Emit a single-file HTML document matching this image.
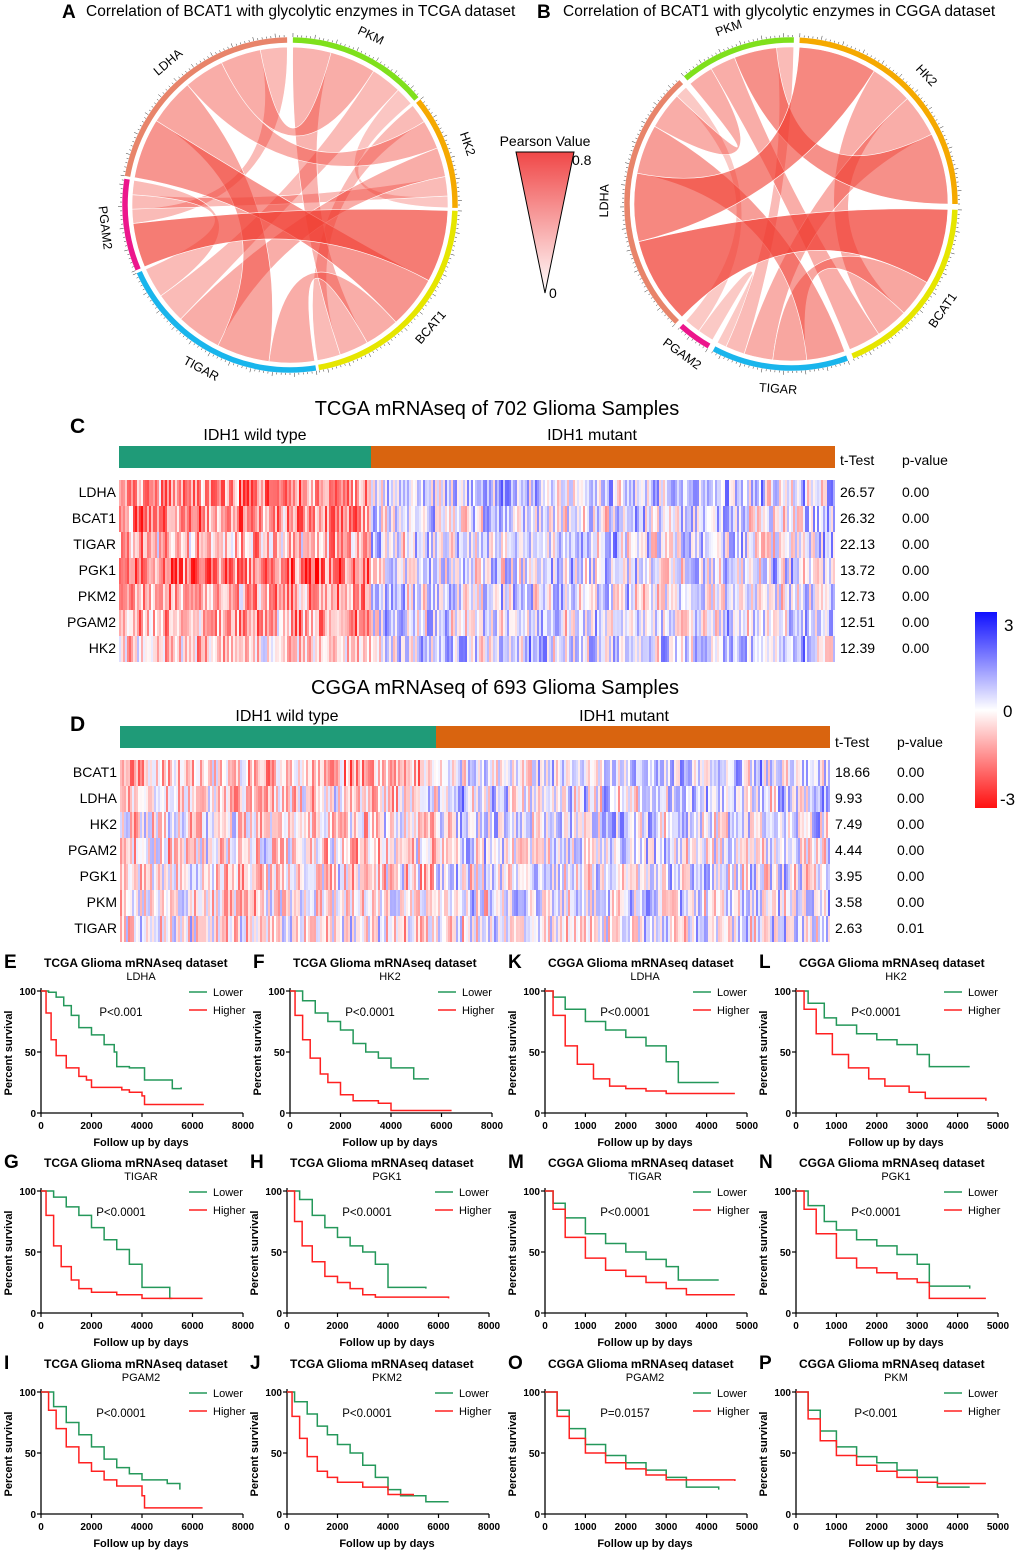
<!DOCTYPE html>
<html><head><meta charset="utf-8"><style>
body{margin:0;background:#fff;}
svg{display:block;font-family:"Liberation Sans",Arial,sans-serif;}
</style></head><body>
<svg id="fig" width="1020" height="1555" viewBox="0 0 1020 1555" xmlns="http://www.w3.org/2000/svg">
<defs>
<linearGradient id="pearsonGrad" x1="0" y1="0" x2="0" y2="1"><stop offset="0" stop-color="#f04848"/><stop offset="1" stop-color="#ffffff"/></linearGradient>
<linearGradient id="zGrad" x1="0" y1="0" x2="0" y2="1"><stop offset="0" stop-color="#1010ff"/><stop offset="0.5" stop-color="#ffffff"/><stop offset="1" stop-color="#ff1010"/></linearGradient>
</defs>
<g id="chordA"></g>
<g id="chordB"></g>
<text x="62" y="18" font-size="19" font-weight="bold">A</text>
<text x="86" y="16" font-size="15.5">Correlation of BCAT1 with glycolytic enzymes in TCGA dataset</text>
<text x="537" y="18" font-size="19" font-weight="bold">B</text>
<text x="563" y="16" font-size="15.5">Correlation of BCAT1 with glycolytic enzymes in CGGA dataset</text>
<g>
<text x="545" y="146" font-size="14" text-anchor="middle">Pearson Value</text>
<polygon points="516,152 574,152 545,293" fill="url(#pearsonGrad)" stroke="#000" stroke-width="1"/>
<text x="572" y="165" font-size="14">0.8</text>
<text x="549" y="298" font-size="14">0</text>
</g>
<g id="heatC"></g>
<g id="heatD"></g>
<g>
<rect x="975" y="612" width="22" height="196" fill="url(#zGrad)"/>
<text x="1004" y="631" font-size="17">3</text>
<text x="1003" y="717" font-size="17">0</text>
<text x="1000" y="805" font-size="17">-3</text>
</g>
<g id="surv"></g>
</svg>
<script>
const NS="http://www.w3.org/2000/svg";
function mk(tag,attrs,parent,txt){const e=document.createElementNS(NS,tag);for(const k in attrs)e.setAttribute(k,attrs[k]);if(txt!==undefined)e.textContent=txt;parent.appendChild(e);return e;}

// ---------- Chord data ----------
const chordGenesA=["PKM","HK2","BCAT1","TIGAR","PGAM2","LDHA"];
const chordSpansA=[[1,50],[51,91],[92,170],[171,246],[247,279],[280,359]];
const chordLinksA=[["BCAT1","PGAM2",0.62],["BCAT1","LDHA",0.45],["BCAT1","TIGAR",0.3],["BCAT1","PKM",0.25],["BCAT1","HK2",0.2],["LDHA","TIGAR",0.35],["LDHA","HK2",0.3],["LDHA","PKM",0.3],["LDHA","PGAM2",0.2],["TIGAR","HK2",0.3],["TIGAR","PKM",0.2],["PGAM2","HK2",0.2],["PGAM2","TIGAR",0.2],["HK2","PKM",0.12]];
const chordGenesB=["PKM","HK2","BCAT1","TIGAR","PGAM2","LDHA"];
const chordSpansB=[[-40,1],[3,90],[92,158],[160,208],[210,222],[224,318]];
const chordLinksB=[["LDHA","BCAT1",0.7],["LDHA","HK2",0.55],["LDHA","TIGAR",0.4],["LDHA","PKM",0.3],["BCAT1","TIGAR",0.35],["BCAT1","HK2",0.3],["BCAT1","PKM",0.3],["HK2","TIGAR",0.3],["HK2","PKM",0.5],["TIGAR","PKM",0.2],["PGAM2","TIGAR",0.1],["PGAM2","LDHA",0.1]];
const geneColors={PKM:"#7fe01c",HK2:"#f5a900",BCAT1:"#e6e600",TIGAR:"#19b5ec",PGAM2:"#ec168c",LDHA:"#e8846a"};

function drawChord(g,cx,cy,r,genes,spans,links){
  const pt=(a,rr)=>{const t=(a-90)*Math.PI/180;return [cx+rr*Math.cos(t),cy+rr*Math.sin(t)];};
  const tot={};genes.forEach(n=>tot[n]=0);
  links.forEach(l=>{tot[l[0]]+=l[2];tot[l[1]]+=l[2];});
  const cur={};genes.forEach((n,i)=>cur[n]=spans[i][0]);
  const scale={};genes.forEach((n,i)=>scale[n]=(spans[i][1]-spans[i][0])/tot[n]);
  const alloc=links.map(l=>{const a0=cur[l[0]];cur[l[0]]+=l[2]*scale[l[0]];const b0=cur[l[1]];cur[l[1]]+=l[2]*scale[l[1]];return [a0,cur[l[0]],b0,cur[l[1]]];});
  const order=links.map((l,i)=>i).sort((a,b)=>links[a][2]-links[b][2]);
  order.forEach(i=>{
    const l=links[i],[a0,a1,b0,b1]=alloc[i];
    const p1=pt(a0,r),p2=pt(a1,r),p3=pt(b0,r),p4=pt(b1,r);
    const d=`M${p1} A${r},${r} 0 0,1 ${p2} Q${cx},${cy} ${p3} A${r},${r} 0 0,1 ${p4} Q${cx},${cy} ${p1}Z`;
    const op=0.2+l[2]*0.75;
    const p=mk("path",{d:d,fill:"#f03c30","fill-opacity":op.toFixed(2),stroke:"#fff","stroke-width":"0.6"},g);
    
    
  });
  genes.forEach((n,i)=>{
    const [s,e]=spans[i];
    const R=r+7;
    const q1=pt(s,R),q2=pt(e,R);
    const large=(e-s)>180?1:0;
    const arc=mk("path",{d:`M${q1} A${R},${R} 0 ${large},1 ${q2}`,fill:"none",stroke:geneColors[n],"stroke-width":"5.5"},g);
    
    
    for(let a=s;a<=e;a+=1.5){const u=pt(a,R+3),v=pt(a,R+(Math.round((a-s)/1.5)%5==0?7:5));mk("line",{x1:u[0],y1:u[1],x2:v[0],y2:v[1],stroke:"#333","stroke-width":"0.5"},g);}
    const mid=(s+e)/2,lp=pt(mid,R+22);
    let rot=mid; if(mid>90&&mid<270) rot=mid-180;
    const t=mk("text",{x:lp[0],y:lp[1],"font-size":"12.5","text-anchor":"middle","dominant-baseline":"middle",transform:`rotate(${rot} ${lp[0]} ${lp[1]})`},g,n);
    
    
  });
}
drawChord(document.getElementById("chordA"),290,205,158,chordGenesA,chordSpansA,chordLinksA);
drawChord(document.getElementById("chordB"),791,204,157,chordGenesB,chordSpansB,chordLinksB);

// ---------- Heatmap data ----------
const heatRowsC=["LDHA","BCAT1","TIGAR","PGK1","PKM2","PGAM2","HK2"];
const heatTtestC=["26.57","26.32","22.13","13.72","12.73","12.51","12.39"];
const heatPC=["0.00","0.00","0.00","0.00","0.00","0.00","0.00"];
const heatWildMeanC=[-1.2,-1.2,-0.8,-1.5,-0.9,-1.0,-0.6];
const heatMutMeanC=[0.35,0.3,0.25,0.2,0.15,0.25,0.4];
const heatRowsD=["BCAT1","LDHA","HK2","PGAM2","PGK1","PKM","TIGAR"];
const heatTtestD=["18.66","9.93","7.49","4.44","3.95","3.58","2.63"];
const heatPD=["0.00","0.00","0.00","0.00","0.00","0.00","0.01"];
const heatWildMeanD=[-0.8,-0.3,-0.2,-0.3,-0.3,-0.2,-0.2];
const heatMutMeanD=[0.4,0.3,0.25,0.15,0.15,0.15,0.1];

function hash(i,j,k){let h=(i*374761393+j*668265263+k*2147483647)|0;h=(h^(h>>>13))*1274126177|0;return ((h^(h>>>16))>>>0)/4294967296;}
function zcol(z){z=Math.max(-3,Math.min(3,z));const f=Math.abs(z)/2.8;const c=Math.round(255*(1-Math.min(1,f)));return z<0?`rgb(255,${c},${c})`:`rgb(${c},${c},255)`;}

function drawHeat(g,x0,x1,xs,barY,rowY,rows,wild,mut,tt,pv,seed,title,titleY,letter,letterY,wildLabelX,mutLabelX,labelY,ttY){
  mk("text",{x:(x0+x1)/2+20,y:titleY,"font-size":"20","text-anchor":"middle"},g,title);
  mk("text",{x:70,y:letterY,"font-size":"21","font-weight":"bold"},g,letter);
  mk("text",{x:wildLabelX,y:labelY,"font-size":"16","text-anchor":"middle"},g,"IDH1 wild type");
  mk("text",{x:mutLabelX,y:labelY,"font-size":"16","text-anchor":"middle"},g,"IDH1 mutant");
  const wb=mk("rect",{x:x0,y:barY,width:xs-x0,height:22,fill:"#1f9b78"},g);
  
  const mb=mk("rect",{x:xs,y:barY,width:x1-xs,height:22,fill:"#d9640f"},g);
  
  mk("text",{x:x1+5,y:ttY,"font-size":"14"},g,"t-Test");
  mk("text",{x:x1+67,y:ttY,"font-size":"14"},g,"p-value");
  const cw=2;
  rows.forEach((r,ri)=>{
    const y=rowY+ri*26;
    mk("text",{x:x0-3,y:y+17,"font-size":"14","text-anchor":"end"},g,r);
    for(let x=x0;x<x1;x+=cw){
      const isW=x<xs;const m=isW?wild[ri]:mut[ri];
      const n=(hash(x,ri,seed)-0.5)*2.2+(hash(Math.floor(x/7),ri,seed+3)-0.5)*1.0;
      mk("rect",{x:x,y:y,width:cw,height:26,fill:zcol(m+n)},g);
    }
    mk("text",{x:x1+5,y:y+17,"font-size":"14"},g,tt[ri]);
    mk("text",{x:x1+67,y:y+17,"font-size":"14"},g,pv[ri]);
  });
}
drawHeat(document.getElementById("heatC"),119,835,371,446,480,heatRowsC,heatWildMeanC,heatMutMeanC,heatTtestC,heatPC,1,"TCGA mRNAseq of 702 Glioma Samples",415,"C",433,255,592,440,465);
drawHeat(document.getElementById("heatD"),120,830,436,726,760,heatRowsD,heatWildMeanD,heatMutMeanD,heatTtestD,heatPD,7,"CGGA  mRNAseq of 693 Glioma Samples",694,"D",731,287,624,721,747);

// ---------- Survival data ----------
const survLowerE=[[0,100],[300,99],[600,95],[900,88],[1200,80],[1500,70],[2000,64],[2500,56],[2900,50],[3000,38],[3500,37],[4100,27],[5200,20],[5550,21]];
const survHigherE=[[0,100],[200,82],[400,60],[600,47],[1000,37],[1500,30],[1800,27],[2000,21],[3200,19],[3500,17],[4000,14],[4100,7],[6450,7]];
const survLowerF=[[0,100],[500,92],[1000,82],[1500,75],[2000,68],[2500,57],[3000,50],[3500,45],[4000,37],[4800,37],[4900,28],[5500,28]];
const survHigherF=[[0,100],[200,80],[500,60],[800,45],[1200,32],[1500,25],[2000,15],[2500,10],[3500,8],[4000,2],[6400,2]];
const survLowerG=[[0,100],[500,95],[1000,87],[1500,80],[2000,70],[2500,60],[3000,52],[3500,40],[4000,21],[4500,21],[5100,12],[5200,12]];
const survHigherG=[[0,100],[200,80],[500,55],[800,38],[1200,27],[1500,20],[2000,17],[3000,15],[4000,12],[6400,12]];
const survLowerH=[[0,100],[500,93],[1000,80],[1500,70],[2000,62],[2500,55],[3000,50],[3500,40],[4000,21],[5500,20]];
const survHigherH=[[0,100],[300,75],[600,55],[1000,42],[1500,30],[2000,25],[2500,20],[3000,15],[3500,13],[6400,12]];
const survLowerI=[[0,100],[500,88],[1000,75],[1500,65],[2000,55],[2500,45],[3000,38],[3500,33],[4000,28],[5000,25],[5500,20]];
const survHigherI=[[0,100],[300,85],[600,70],[1000,55],[1500,42],[2000,35],[2500,28],[3000,23],[4000,15],[4100,5],[6400,5]];
const survLowerJ=[[0,100],[300,92],[800,82],[1200,72],[1600,65],[2000,57],[2500,50],[3000,40],[3500,30],[4000,20],[4500,15],[5500,10],[6400,10]];
const survHigherJ=[[0,100],[200,80],[500,62],[800,47],[1200,35],[1600,30],[2000,26],[3000,22],[4000,16],[5000,15]];
const survLowerK=[[0,100],[200,95],[500,85],[1000,75],[1500,68],[2000,62],[2500,55],[3000,42],[3300,25],[4300,25]];
const survHigherK=[[0,100],[200,80],[500,55],[800,40],[1200,28],[1600,22],[2000,20],[2500,18],[3000,16],[4700,16]];
const survLowerL=[[0,100],[300,90],[700,78],[1000,72],[1500,65],[2000,60],[2500,56],[3000,48],[3300,38],[4300,38]];
const survHigherL=[[0,100],[200,85],[500,65],[900,48],[1300,37],[1800,28],[2200,22],[2800,17],[3200,12],[4700,10]];
const survLowerM=[[0,100],[200,90],[500,78],[1000,65],[1500,57],[2000,50],[2500,44],[3000,38],[3300,27],[4300,27]];
const survHigherM=[[0,100],[200,85],[500,62],[1000,45],[1500,35],[2000,30],[2500,25],[3000,20],[3500,15],[4700,15]];
const survLowerN=[[0,100],[300,88],[700,75],[1000,68],[1500,60],[2000,55],[2500,48],[3000,40],[3300,22],[4300,20]];
const survHigherN=[[0,100],[200,85],[500,65],[1000,45],[1500,37],[2000,33],[2500,28],[3000,25],[3300,12],[4700,12]];
const survLowerO=[[0,100],[300,85],[600,70],[1000,57],[1500,48],[2000,42],[2500,36],[3000,30],[3500,22],[4300,20]];
const survHigherO=[[0,100],[300,80],[600,62],[1000,50],[1500,42],[2000,37],[2500,32],[3000,28],[4700,27]];
const survLowerP=[[0,100],[300,85],[600,68],[1000,55],[1500,47],[2000,42],[2500,36],[3000,30],[3500,22],[4300,22]];
const survHigherP=[[0,100],[300,78],[600,60],[1000,48],[1500,40],[2000,35],[2500,30],[3000,26],[3500,25],[4700,25]];
const tcgaXTicks=[0,2000,4000,6000,8000];
const cggaXTicks=[0,1000,2000,3000,4000,5000];
const survYTicks=[0,50,100];

const panels=[
 ["E","TCGA","LDHA","P<0.001",41,1113,tcgaXTicks,survLowerE,survHigherE],
 ["F","TCGA","HK2","P<0.0001",290,1113,tcgaXTicks,survLowerF,survHigherF],
 ["K","CGGA","LDHA","P<0.0001",545,1113,cggaXTicks,survLowerK,survHigherK],
 ["L","CGGA","HK2","P<0.0001",796,1113,cggaXTicks,survLowerL,survHigherL],
 ["G","TCGA","TIGAR","P<0.0001",41,1313,tcgaXTicks,survLowerG,survHigherG],
 ["H","TCGA","PGK1","P<0.0001",287,1313,tcgaXTicks,survLowerH,survHigherH],
 ["M","CGGA","TIGAR","P<0.0001",545,1313,cggaXTicks,survLowerM,survHigherM],
 ["N","CGGA","PGK1","P<0.0001",796,1313,cggaXTicks,survLowerN,survHigherN],
 ["I","TCGA","PGAM2","P<0.0001",41,1514,tcgaXTicks,survLowerI,survHigherI],
 ["J","TCGA","PKM2","P<0.0001",287,1514,tcgaXTicks,survLowerJ,survHigherJ],
 ["O","CGGA","PGAM2","P=0.0157",545,1514,cggaXTicks,survLowerO,survHigherO],
 ["P","CGGA","PKM","P<0.001",796,1514,cggaXTicks,survLowerP,survHigherP]
];
const sv=document.getElementById("surv");
panels.forEach(p=>{
  const [L,ds,gene,pt,ox,oy,xt,lo,hi]=p;
  const W=202,H=122,xmax=xt[xt.length-1];
  const X=v=>ox+v/xmax*W, Y=v=>oy-v/100*H;
  const g=mk("g",{},sv);
  
  
  mk("text",{x:ox-37,y:oy-145,"font-size":"19","font-weight":"bold"},g,L);
  mk("text",{x:ox+3,y:oy-146,"font-size":"12","font-weight":"bold"},g,ds+" Glioma mRNAseq dataset");
  mk("text",{x:ox+100,y:oy-133,"font-size":"11","text-anchor":"middle"},g,gene);
  mk("line",{x1:ox,y1:oy-H-3,x2:ox,y2:oy,stroke:"#000","stroke-width":"1.3"},g);
  mk("line",{x1:ox,y1:oy,x2:ox+W,y2:oy,stroke:"#000","stroke-width":"1.3"},g);
  survYTicks.forEach(t=>{mk("line",{x1:ox-4,y1:Y(t),x2:ox,y2:Y(t),stroke:"#000","stroke-width":"1.2"},g);mk("text",{x:ox-5,y:Y(t)+4,"font-size":"10","font-weight":"bold","text-anchor":"end"},g,t);});
  xt.forEach(t=>{mk("line",{x1:X(t),y1:oy,x2:X(t),y2:oy+4,stroke:"#000","stroke-width":"1.2"},g);mk("text",{x:X(t),y:oy+16,"font-size":"10","font-weight":"bold","text-anchor":"middle"},g,t);});
  mk("text",{x:ox+100,y:oy+33,"font-size":"11","font-weight":"bold","text-anchor":"middle"},g,"Follow up by days");
  mk("text",{x:ox-29,y:oy-60,"font-size":"11","font-weight":"bold","text-anchor":"middle",transform:`rotate(-90 ${ox-29} ${oy-60})`},g,"Percent survival");
  mk("text",{x:ox+80,y:oy-97,"font-size":"11.5","text-anchor":"middle"},g,pt);
  [["Lower","#24985a",oy-121],["Higher","#ff2020",oy-103]].forEach(e=>{
    mk("line",{x1:ox+148,y1:e[2],x2:ox+166,y2:e[2],stroke:e[1],"stroke-width":"1.5"},g);
    mk("text",{x:ox+172,y:e[2]+4,"font-size":"11"},g,e[0]);
  });
  [[lo,"#24985a","lower"],[hi,"#ff2020","higher"]].forEach(s=>{
    let d=`M${X(s[0][0][0])},${Y(s[0][0][1])}`;
    for(let i=1;i<s[0].length;i++){d+=` H${X(s[0][i][0])} V${Y(s[0][i][1])}`;}
    const path=mk("path",{d:d,fill:"none",stroke:s[1],"stroke-width":"1.5"},g);
    
    
  });
});
</script>
</body></html>
